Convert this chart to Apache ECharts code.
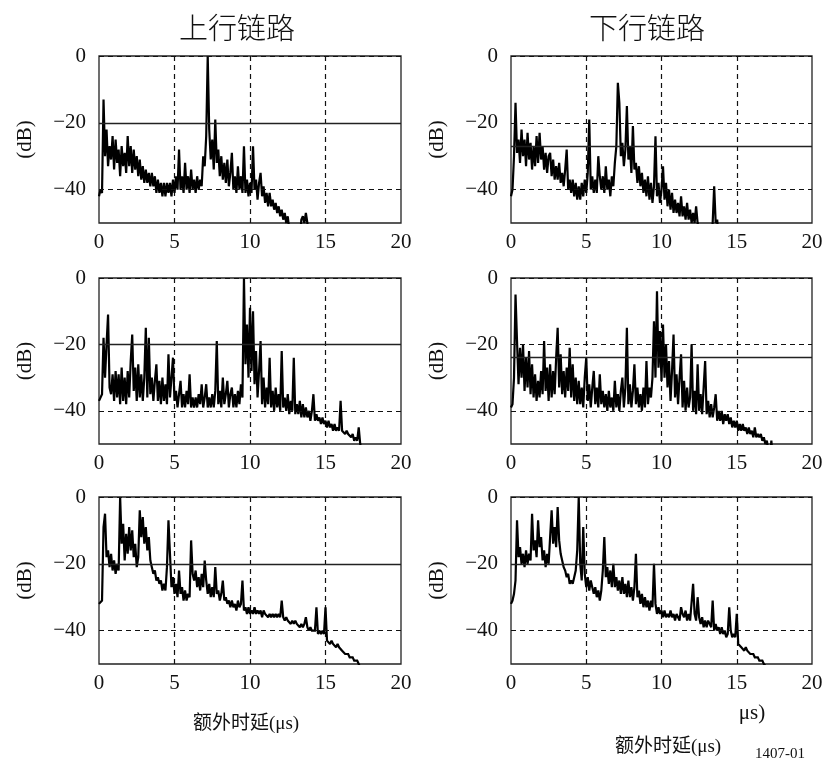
<!DOCTYPE html>
<html><head><meta charset="utf-8">
<script src="https://cdn.jsdelivr.net/npm/echarts@6/dist/echarts.min.js"></script>
<style>html,body{margin:0;padding:0;background:#fff}#c{width:826px;height:764px}</style>
</head><body><div id="c"></div>
<script>
// time step of the sampled delay profiles (µs)
const T_STEP = 0.1;
// Uplink / downlink delay profiles (dB), sampled every 0.1 µs from 0 µs
const ulTop = [
-42,-40,-41,-13,-30,-22,-33,-27,-31,-24,
-34,-25,-32,-28,-36,-27,-33,-29,-35,-24,
-33,-27,-35,-28,-34,-30,-36,-31,-37,-33,
-38,-34,-38,-35,-39,-35,-39,-36,-41,-37,
-41,-38,-42,-38,-42,-38,-41,-38,-42,-37,
-41,-36,-40,-28,-40,-36,-41,-32,-40,-36,
-41,-34,-40,-37,-41,-36,-40,-37,-39,-30,
-33,-24,0,-22,-31,-25,-34,-19,-32,-28,
-36,-30,-37,-32,-38,-31,-39,-35,-29,-40,
-36,-41,-33,-40,-36,-41,-27,-41,-37,-42,
-38,-41,-27,-40,-37,-43,-38,-35,-42,-39,
-44,-41,-45,-41,-45,-43,-46,-44,-47,-45,
-48,-46,-49,-47,-50,-48,-52,-55,-55,-55,
-55,-55,-55,-55,-49,-48,-50,-47,-50,-55
];
const dlTop = [
-42,-40,-30,-14,-29,-25,-32,-22,-30,-25,
-33,-23,-31,-26,-34,-27,-33,-24,-32,-23,
-31,-27,-34,-29,-35,-30,-29,-36,-31,-37,
-33,-37,-32,-38,-35,-39,-34,-28,-40,-37,
-41,-37,-42,-38,-43,-39,-43,-38,-42,-37,
-41,-35,-19,-40,-36,-41,-37,-41,-30,-36,
-40,-36,-41,-33,-40,-37,-42,-36,-39,-32,
-27,-8,-14,-30,-26,-33,-28,-15,-31,-27,
-35,-21,-34,-32,-38,-33,-39,-35,-41,-37,
-42,-36,-43,-38,-44,-39,-24,-42,-38,-44,
-40,-33,-43,-38,-45,-40,-46,-41,-47,-43,
-47,-44,-48,-42,-48,-45,-49,-44,-49,-46,
-50,-47,-50,-45,-50,-52,-55,-55,-55,-55,
-55,-55,-55,-55,-50,-39,-50,-49,-55
];
const ulMid = [
-37,-37,-35,-18,-30,-20,-11,-33,-35,-29,
-37,-28,-36,-29,-38,-27,-37,-30,-38,-28,
-36,-25,-17,-34,-27,-37,-26,-36,-29,-37,
-30,-15,-36,-18,-35,-30,-37,-31,-26,-37,
-31,-38,-30,-37,-32,-38,-23,-36,-30,-24,
-37,-34,-39,-35,-31,-39,-35,-39,-34,-38,
-29,-39,-36,-39,-36,-39,-35,-38,-32,-39,
-36,-32,-39,-36,-39,-35,-39,-34,-19,-38,
-34,-39,-30,-38,-35,-31,-39,-35,-33,-39,
-35,-39,-34,-38,-32,-36,0,-26,-14,-30,
-9,-28,-10,-32,-22,-36,-28,-19,-38,-30,
-39,-33,-38,-24,-39,-34,-40,-33,-39,-35,
-40,-22,-39,-36,-40,-35,-41,-37,-40,-24,
-41,-38,-41,-37,-42,-38,-42,-39,-42,-40,
-43,-40,-35,-43,-41,-43,-42,-44,-42,-44,
-43,-45,-43,-45,-44,-46,-44,-46,-45,-46,
-37,-46,-46,-47,-46,-47,-47,-48,-47,-49,
-48,-49,-45,-50,-52
];
const dlMid = [
-39,-38,-30,-5,-19,-32,-21,-30,-20,-34,
-24,-33,-22,-35,-26,-36,-29,-37,-31,-36,
-28,-35,-19,-34,-27,-37,-26,-36,-28,-35,
-24,-15,-33,-23,-35,-28,-36,-27,-34,-21,
-36,-26,-37,-30,-38,-31,-38,-33,-39,-30,
-24,-37,-32,-39,-33,-28,-38,-33,-39,-29,
-38,-34,-39,-35,-40,-34,-39,-36,-40,-31,
-39,-35,-40,-34,-30,-39,-33,-15,-38,-32,
-39,-34,-26,-38,-33,-39,-35,-40,-33,-39,
-25,-38,-33,-36,-30,-13,-30,-4,-27,-16,
-31,-14,-30,-20,-33,-25,-37,-28,-17,-36,
-29,-38,-30,-23,-39,-31,-40,-33,-39,-36,
-20,-40,-34,-41,-26,-40,-35,-41,-33,-25,
-41,-37,-42,-38,-42,-39,-35,-43,-40,-43,
-40,-44,-41,-43,-41,-44,-42,-45,-43,-45,
-43,-46,-44,-46,-44,-46,-45,-47,-45,-47,
-46,-48,-45,-48,-47,-48,-47,-49,-48,-50,
-49,-52,-55,-49,-55
];
const ulBot = [
-32,-32,-31,-9,-5,-18,-16,-21,-17,-22,
-19,-23,-20,-22,0,-14,-8,-19,-11,-17,
-9,-16,-10,-18,-14,-21,-18,-4,-12,-6,
-14,-9,-16,-12,-19,-21,-23,-22,-25,-24,
-26,-25,-28,-26,-28,-21,-7,-17,-27,-24,
-29,-26,-30,-22,-29,-27,-31,-28,-31,-29,
-30,-13,-23,-25,-22,-27,-24,-28,-23,-27,
-19,-25,-29,-26,-30,-27,-30,-21,-29,-28,
-31,-29,-25,-31,-30,-32,-31,-33,-31,-33,
-32,-34,-31,-33,-32,-25,-34,-33,-35,-33,
-35,-34,-35,-33,-35,-34,-35,-34,-36,-34,
-35,-35,-36,-35,-36,-35,-36,-35,-36,-35,
-36,-31,-36,-37,-36,-37,-37,-38,-37,-38,
-37,-38,-38,-39,-38,-39,-38,-36,-39,-40,
-39,-40,-40,-40,-33,-41,-40,-41,-40,-41,
-33,-43,-43,-44,-43,-44,-44,-45,-44,-45,
-45,-46,-46,-47,-47,-47,-48,-48,-48,-49,
-49,-49,-50,-50,-52
];
const dlBot = [
-32,-31,-29,-25,-7,-18,-15,-20,-17,-21,
-16,-20,-17,-19,-5,-16,-13,-18,-7,-15,
-12,-19,-16,-21,-17,-20,-12,-4,-14,-9,
-15,-3,-13,-17,-19,-21,-22,-24,-23,-26,
-25,-26,-24,-22,-16,0,-20,-25,-9,-23,
-27,-24,-28,-25,-27,-29,-27,-30,-28,-31,
-28,-22,-12,-24,-21,-26,-22,-27,-20,-27,
-24,-28,-25,-29,-24,-29,-26,-30,-25,-30,
-27,-31,-27,-17,-30,-28,-32,-29,-33,-30,
-33,-31,-34,-31,-33,-20,-32,-35,-33,-35,
-34,-36,-34,-36,-35,-36,-34,-36,-35,-37,
-35,-36,-37,-33,-35,-36,-34,-37,-35,-37,
-37,-26,-35,-37,-30,-36,-38,-36,-39,-37,
-39,-37,-38,-39,-31,-40,-38,-40,-39,-41,
-39,-41,-40,-42,-41,-33,-40,-42,-41,-42,
-35,-44,-44,-45,-45,-46,-45,-46,-46,-47,
-47,-47,-48,-48,-48,-49,-49,-49,-50,-50,
-51,-52
];
// solid threshold line per panel (dB)
const thresholds = [-20, -27, -20, -24, -20, -20];
// dashed reference levels
const gridLevels = [0, -20, -40];
const X_MIN = 0, X_MAX = 20, X_STEP = 5;
const Y_MIN = -50, Y_MAX = 0, Y_STEP = 10;
const colTitles = ['上行链路', '下行链路'];
const xName = '额外时延(μs)';
const figId = '1407-01';

const profiles = [ulTop, dlTop, ulMid, dlMid, ulBot, dlBot];

// layout (pixels)
const colLeft = [99, 511];
const colWidth = [302, 301];
const rowTop = [56, 278, 497];
const rowHeight = [167, 166, 167];

const SERIF = '"Liberation Serif", "Times New Roman", serif';
const CJK = '"Liberation Serif", "Noto Sans CJK SC", serif';
const dash = [5, 4];

const grids = [], xAxes = [], yAxes = [], series = [];
profiles.forEach((vals, i) => {
  const r = Math.floor(i / 2), c = i % 2;
  grids.push({left: colLeft[c], top: rowTop[r], width: colWidth[c], height: rowHeight[r],
    show: true, borderColor: '#222', borderWidth: 1.3, backgroundColor: 'transparent'});
  xAxes.push({gridIndex: i, type: 'value', min: X_MIN, max: X_MAX, interval: X_STEP,
    axisLine: {show: false}, axisTick: {show: false},
    splitLine: {show: true, showMinLine: false, showMaxLine: false,
      lineStyle: {type: dash, color: '#111', width: 1.2}},
    axisLabel: {fontFamily: SERIF, fontSize: 21, color: '#111', margin: 9}});
  yAxes.push({gridIndex: i, type: 'value', min: Y_MIN, max: Y_MAX, interval: Y_STEP,
    axisLine: {show: false}, axisTick: {show: false}, splitLine: {show: false},
    name: '(dB)', nameLocation: 'middle', nameRotate: 90, nameGap: 63,
    nameTextStyle: {fontFamily: SERIF, fontSize: 21, color: '#111'},
    axisLabel: {fontFamily: SERIF, fontSize: 21, color: '#111', margin: 13,
      formatter: v => (gridLevels.indexOf(v) >= 0 ? (v < 0 ? '\u2212' + (-v) : String(v)) : '')}});
  const mlData = [];
  gridLevels.forEach(v => mlData.push({yAxis: v, lineStyle: {type: dash, color: '#111', width: 1.2}}));
  mlData.push({yAxis: thresholds[i], lineStyle: {type: 'solid', color: '#222', width: 1.3}});
  series.push({type: 'line', xAxisIndex: i, yAxisIndex: i, showSymbol: false, symbol: 'none',
    clip: true, animation: false, silent: true,
    data: vals.map((v, k) => [+(k * T_STEP).toFixed(1), v]),
    lineStyle: {color: '#000', width: 2.2, join: 'miter', miterLimit: 1.5},
    markLine: {silent: true, symbol: ['none', 'none'], label: {show: false}, animation: false,
      data: mlData}});
});

const graphics = [
  {type: 'text', x: 237, y: 28, style: {text: colTitles[0], font: '300 29px "Noto Sans CJK SC"', fill: '#111', textAlign: 'center', textVerticalAlign: 'middle'}},
  {type: 'text', x: 647, y: 28, style: {text: colTitles[1], font: '300 29px "Noto Sans CJK SC"', fill: '#111', textAlign: 'center', textVerticalAlign: 'middle'}},
  {type: 'text', x: 246, y: 724, style: {text: xName, font: '19px ' + CJK, fill: '#111', textAlign: 'center', textVerticalAlign: 'middle'}},
  {type: 'text', x: 752, y: 713, style: {text: 'μs)', font: '21px ' + SERIF, fill: '#111', textAlign: 'center', textVerticalAlign: 'middle'}},
  {type: 'text', x: 668, y: 747, style: {text: xName, font: '19px ' + CJK, fill: '#111', textAlign: 'center', textVerticalAlign: 'middle'}},
  {type: 'text', x: 780, y: 754, style: {text: figId, font: '15px ' + SERIF, fill: '#111', textAlign: 'center', textVerticalAlign: 'middle'}}
];

const chart = echarts.init(document.getElementById('c'), null, {renderer: 'canvas'});
chart.setOption({backgroundColor: '#fff', animation: false, grid: grids, xAxis: xAxes, yAxis: yAxes, series: series, graphic: graphics});
</script>
</body></html>
